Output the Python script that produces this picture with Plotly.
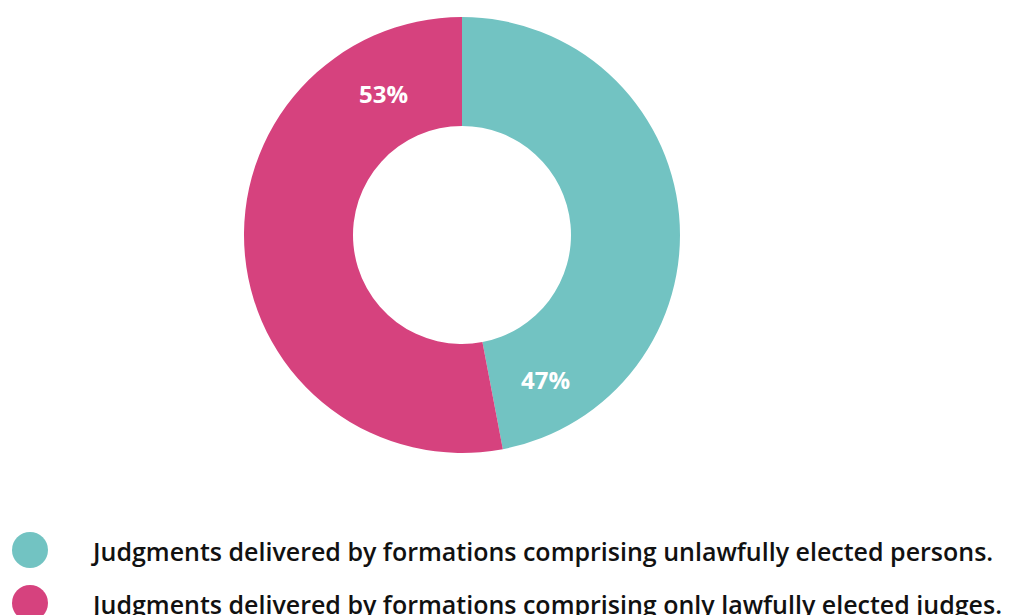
import plotly.graph_objects as go

# Share of judgments by the composition of the formation
labels = [
    "Judgments delivered by formations comprising unlawfully elected persons.",
    "Judgments delivered by formations comprising only lawfully elected judges.",
]
values = [47, 53]
colors = ["#72C3C2", "#D6427E"]

W, H = 1014, 615

fig = go.Figure(
    go.Pie(
        labels=labels,
        values=values,
        hole=0.5,
        sort=False,
        direction="clockwise",
        rotation=0,
        marker=dict(colors=colors, line=dict(width=0)),
        textinfo="none",
        hoverinfo="label+percent",
        showlegend=False,
        domain=dict(x=[244 / W, 680 / W], y=[1 - 453 / H, 1 - 17 / H]),
    )
)

# Percentage labels placed on the ring
label_pos = [(545, 379), (383, 94)]
annotations = []
for v, (px, py) in zip(values, label_pos):
    annotations.append(
        dict(
            x=px / W, y=1 - py / H, xref="paper", yref="paper",
            text=f"{v}%", showarrow=False,
            font=dict(family="Open Sans", size=24, color="white", weight=700),
            xanchor="center", yanchor="middle",
        )
    )

# Custom legend: large circles with descriptive text
shapes = []
legend_y = [550, 603]
r = 18
for lab, col, ly in zip(labels, colors, legend_y):
    shapes.append(
        dict(
            type="circle", xref="paper", yref="paper",
            x0=(30 - r) / W, x1=(30 + r) / W,
            y0=1 - (ly + r) / H, y1=1 - (ly - r) / H,
            fillcolor=col, line=dict(width=0),
        )
    )
    annotations.append(
        dict(
            x=89 / W, y=1 - (ly + 1) / H, xref="paper", yref="paper",
            text=lab, showarrow=False,
            font=dict(family="Open Sans", size=25, color="#111111", weight=600),
            xanchor="left", yanchor="middle",
        )
    )

fig.update_layout(
    width=W, height=H,
    margin=dict(l=0, r=0, t=0, b=0),
    paper_bgcolor="white",
    plot_bgcolor="white",
    annotations=annotations,
    shapes=shapes,
)

fig.write_html("out.html")
